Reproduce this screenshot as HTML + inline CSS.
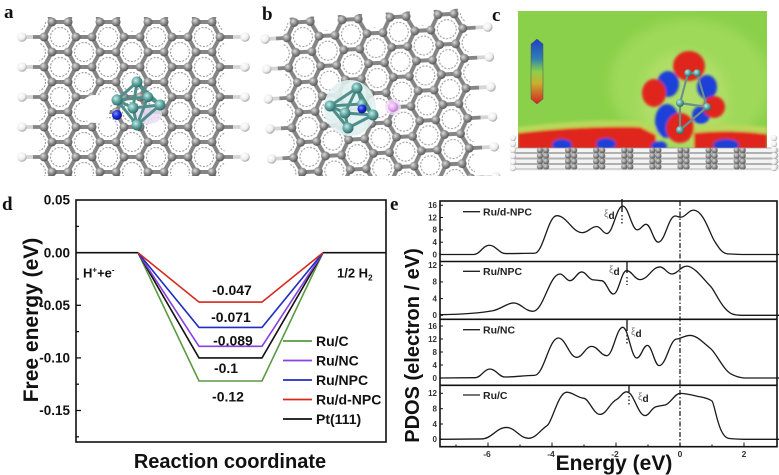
<!DOCTYPE html>
<html><head><meta charset="utf-8"><style>html,body{margin:0;padding:0;background:#fff}svg{display:block}</style></head><body>
<svg xmlns="http://www.w3.org/2000/svg" xmlns:xlink="http://www.w3.org/1999/xlink" width="779" height="475" viewBox="0 0 779 475" font-family="'Liberation Sans', Arial, sans-serif">
<defs>
<radialGradient id="atom" cx="0.38" cy="0.35" r="0.7"><stop offset="0" stop-color="#dcdcdc"/><stop offset="0.45" stop-color="#959595"/><stop offset="1" stop-color="#4e4e4e"/></radialGradient>
<radialGradient id="hat" cx="0.38" cy="0.35" r="0.7"><stop offset="0" stop-color="#ffffff"/><stop offset="0.6" stop-color="#eeeeee"/><stop offset="1" stop-color="#9a9a9a"/></radialGradient>
<radialGradient id="ru" cx="0.38" cy="0.35" r="0.7"><stop offset="0" stop-color="#c4ece8"/><stop offset="0.5" stop-color="#5fa6a1"/><stop offset="1" stop-color="#2a625f"/></radialGradient>
<radialGradient id="nat" cx="0.38" cy="0.35" r="0.7"><stop offset="0" stop-color="#7f8cff"/><stop offset="0.5" stop-color="#1a2ad6"/><stop offset="1" stop-color="#0a1280"/></radialGradient>
<radialGradient id="pat" cx="0.38" cy="0.35" r="0.7"><stop offset="0" stop-color="#fbe6ff"/><stop offset="0.6" stop-color="#e3a4ee"/><stop offset="1" stop-color="#b070c0"/></radialGradient>
<linearGradient id="cbar" x1="0" y1="0" x2="0" y2="1"><stop offset="0" stop-color="#1f3fc8"/><stop offset="0.3" stop-color="#2f7fb0"/><stop offset="0.5" stop-color="#8ad04a"/><stop offset="0.68" stop-color="#c8b030"/><stop offset="1" stop-color="#d42020"/></linearGradient>
<filter id="bl" x="-30%" y="-30%" width="160%" height="160%"><feGaussianBlur stdDeviation="1.3"/></filter>
<filter id="bl2" x="-30%" y="-30%" width="160%" height="160%"><feGaussianBlur stdDeviation="5"/></filter>
<pattern id="gr" patternUnits="userSpaceOnUse" x="60" y="37" width="48" height="30">
 <g stroke="#858585" stroke-width="4" stroke-linecap="round">
  <line x1="16" y1="0" x2="32" y2="0"/><line x1="16" y1="30" x2="32" y2="30"/>
  <line x1="16" y1="0" x2="8" y2="15"/><line x1="32" y1="0" x2="40" y2="15"/>
  <line x1="8" y1="15" x2="16" y2="30"/><line x1="40" y1="15" x2="32" y2="30"/>
  <line x1="40" y1="15" x2="56" y2="15"/><line x1="-8" y1="15" x2="8" y2="15"/>
 </g>
 <g fill="none" stroke="#9a9a9a" stroke-width="1.1" stroke-dasharray="2 1.5">
  <circle cx="0" cy="0" r="9.5"/><circle cx="48" cy="0" r="9.5"/><circle cx="0" cy="30" r="9.5"/><circle cx="48" cy="30" r="9.5"/><circle cx="24" cy="15" r="9.5"/>
 </g>
 <g fill="url(#atom)">
  <circle cx="16" cy="0" r="4.5"/><circle cx="32" cy="0" r="4.5"/><circle cx="16" cy="30" r="4.5"/><circle cx="32" cy="30" r="4.5"/><circle cx="8" cy="15" r="4.5"/><circle cx="40" cy="15" r="4.5"/>
 </g>
</pattern>
<pattern id="sv" patternUnits="userSpaceOnUse" x="529" y="147.5" width="28.1" height="5.5">
 <circle cx="11" cy="2.75" r="3.1" fill="url(#atom)"/><circle cx="17" cy="2.75" r="3.1" fill="url(#atom)"/>
</pattern>
<clipPath id="clA"><polygon points="39.5,195 39.5,33 48,17 72,17 76,31.5 92,31.5 96,17 120,17 124,31.5 140,31.5 144,17 168,17 172,31.5 188,31.5 192,17 216,17 224.5,33 224.5,195"/></clipPath>
<clipPath id="topclip"><rect x="0" y="0" width="512" height="176"/></clipPath>
<clipPath id="clC"><rect x="518" y="11" width="249" height="139"/></clipPath>
<g id="sheet">
 <g stroke-width="3.8">
  <line x1="33" y1="37" x2="44" y2="37" stroke="#858585"/><line x1="22" y1="37" x2="33" y2="37" stroke="#d5d5d5"/>
  <line x1="33" y1="67" x2="44" y2="67" stroke="#858585"/><line x1="22" y1="67" x2="33" y2="67" stroke="#d5d5d5"/>
  <line x1="33" y1="97" x2="44" y2="97" stroke="#858585"/><line x1="22" y1="97" x2="33" y2="97" stroke="#d5d5d5"/>
  <line x1="33" y1="127" x2="44" y2="127" stroke="#858585"/><line x1="22" y1="127" x2="33" y2="127" stroke="#d5d5d5"/>
  <line x1="33" y1="157" x2="44" y2="157" stroke="#858585"/><line x1="22" y1="157" x2="33" y2="157" stroke="#d5d5d5"/>
  <line x1="33" y1="187" x2="44" y2="187" stroke="#858585"/><line x1="22" y1="187" x2="33" y2="187" stroke="#d5d5d5"/>
  <line x1="220" y1="37" x2="233" y2="37" stroke="#858585"/><line x1="233" y1="37" x2="245" y2="37" stroke="#d5d5d5"/>
  <line x1="220" y1="67" x2="233" y2="67" stroke="#858585"/><line x1="233" y1="67" x2="245" y2="67" stroke="#d5d5d5"/>
  <line x1="220" y1="97" x2="233" y2="97" stroke="#858585"/><line x1="233" y1="97" x2="245" y2="97" stroke="#d5d5d5"/>
  <line x1="220" y1="127" x2="233" y2="127" stroke="#858585"/><line x1="233" y1="127" x2="245" y2="127" stroke="#d5d5d5"/>
  <line x1="220" y1="157" x2="233" y2="157" stroke="#858585"/><line x1="233" y1="157" x2="245" y2="157" stroke="#d5d5d5"/>
  <line x1="220" y1="187" x2="233" y2="187" stroke="#858585"/><line x1="233" y1="187" x2="245" y2="187" stroke="#d5d5d5"/>
 </g>
 <rect x="30" y="5" width="200" height="195" fill="url(#gr)" clip-path="url(#clA)"/>
 <g fill="url(#hat)">
  <circle cx="22" cy="37" r="4.8"/><circle cx="22" cy="67" r="4.8"/><circle cx="22" cy="97" r="4.8"/><circle cx="22" cy="127" r="4.8"/><circle cx="22" cy="157" r="4.8"/><circle cx="22" cy="187" r="4.8"/>
  <circle cx="245" cy="37" r="4.8"/><circle cx="245" cy="67" r="4.8"/><circle cx="245" cy="97" r="4.8"/><circle cx="245" cy="127" r="4.8"/><circle cx="245" cy="157" r="4.8"/><circle cx="245" cy="187" r="4.8"/>
 </g>
</g>
</defs>

<!-- Panels a & b -->
<g clip-path="url(#topclip)">
 <use href="#sheet" xlink:href="#sheet"/>
 <ellipse cx="95" cy="109" rx="15" ry="14" fill="#fff"/>
 <ellipse cx="148" cy="114" rx="14" ry="10" fill="#eadcf5" opacity="0.85"/>
 <g stroke="#4f8f8b" stroke-width="3" stroke-linecap="round">
  <line x1="137" y1="82" x2="117" y2="100"/><line x1="137" y1="82" x2="160" y2="105"/><line x1="137" y1="82" x2="133" y2="108"/><line x1="137" y1="82" x2="148" y2="97"/>
  <line x1="137" y1="125" x2="117" y2="100"/><line x1="137" y1="125" x2="160" y2="105"/><line x1="137" y1="125" x2="133" y2="108"/><line x1="137" y1="125" x2="148" y2="97"/>
  <line x1="117" y1="100" x2="133" y2="108"/><line x1="133" y1="108" x2="160" y2="105"/><line x1="160" y1="105" x2="148" y2="97"/><line x1="148" y1="97" x2="117" y2="100"/>
 </g>
 <g fill="url(#ru)">
  <circle cx="148" cy="97" r="5.2"/><circle cx="117" cy="100" r="5.5"/><circle cx="160" cy="105" r="5.5"/><circle cx="137" cy="82" r="5.5"/><circle cx="137" cy="125" r="5.5"/><circle cx="133" cy="108" r="5.5"/>
 </g>
 <circle cx="117" cy="115" r="5" fill="url(#nat)"/>

 <use href="#sheet" xlink:href="#sheet" transform="rotate(-3.1 303 37) translate(243 0)"/>
 <ellipse cx="350" cy="108" rx="26" ry="28" fill="#e2f1f1" opacity="0.9"/>
 <circle cx="393" cy="107" r="8" fill="#f3dcf7" opacity="0.8"/>
 <g stroke="#4f8f8b" stroke-width="3" stroke-linecap="round">
  <line x1="357" y1="88" x2="330" y2="106"/><line x1="357" y1="88" x2="373" y2="115"/><line x1="357" y1="88" x2="345" y2="113"/><line x1="357" y1="88" x2="362" y2="104"/>
  <line x1="348" y1="128" x2="330" y2="106"/><line x1="348" y1="128" x2="373" y2="115"/><line x1="348" y1="128" x2="345" y2="113"/>
  <line x1="330" y1="106" x2="345" y2="113"/><line x1="345" y1="113" x2="373" y2="115"/><line x1="330" y1="106" x2="362" y2="104"/><line x1="362" y1="104" x2="373" y2="115"/>
 </g>
 <g fill="url(#ru)">
  <circle cx="362" cy="104" r="5"/><circle cx="330" cy="106" r="5.5"/><circle cx="373" cy="115" r="5.5"/><circle cx="357" cy="88" r="5.5"/><circle cx="348" cy="128" r="5.5"/><circle cx="345" cy="113" r="5.5"/>
 </g>
 <circle cx="362" cy="109" r="4.5" fill="url(#nat)"/>
 <circle cx="393" cy="107" r="5" fill="url(#pat)"/>
</g>

<!-- Panel c -->
<g clip-path="url(#clC)">
 <rect x="518" y="11" width="249" height="140" fill="#8bd04a"/>
 <ellipse cx="690" cy="84" rx="80" ry="64" fill="#9fd95a" filter="url(#bl2)"/>
 <ellipse cx="684" cy="100" rx="44" ry="48" fill="#b0de68" filter="url(#bl2)"/>
 <g filter="url(#bl)">
  <path d="M518,127 C560,122 600,119 640,121 L660,129 L660,151 L518,151 Z" fill="#b8d85a"/>
  <path d="M692,126 C720,123 745,124 767,127 L767,151 L692,151 Z" fill="#b8d85a"/>
  <path d="M518,133 C560,128 600,126 640,127 L656,135 L656,151 L518,151 Z" fill="#e0261c"/>
  <path d="M694,133 C720,130 745,131 767,134 L767,151 L694,151 Z" fill="#e0261c"/>
  <ellipse cx="668" cy="84" rx="11" ry="13" fill="#1f3fd8"/>
  <ellipse cx="707" cy="87" rx="10" ry="12" fill="#1f3fd8"/>
  <ellipse cx="667" cy="121" rx="12" ry="17" fill="#1f3fd8"/>
  <ellipse cx="701" cy="115" rx="9" ry="9" fill="#1f3fd8"/>
  <ellipse cx="659" cy="146" rx="8" ry="5" fill="#1f3fd8"/>
  <ellipse cx="562" cy="145" rx="10" ry="6" fill="#1f3fd8"/>
  <ellipse cx="606" cy="144" rx="10" ry="6" fill="#1f3fd8"/>
  <ellipse cx="726" cy="145" rx="13" ry="6" fill="#1f3fd8"/>
  <ellipse cx="689" cy="66" rx="16" ry="15" fill="#e0261c"/>
  <ellipse cx="654" cy="93" rx="12" ry="14" fill="#e0261c"/>
  <ellipse cx="714" cy="107" rx="11" ry="11" fill="#e0261c"/>
  <ellipse cx="680" cy="128" rx="14" ry="15" fill="#e0261c"/>
 </g>
 <g stroke="#6f8f8c" stroke-width="2.2">
  <line x1="688" y1="73" x2="697" y2="73"/><line x1="688" y1="73" x2="680" y2="103"/><line x1="697" y1="73" x2="707" y2="107"/>
  <line x1="680" y1="103" x2="707" y2="107"/><line x1="680" y1="103" x2="680" y2="130"/><line x1="707" y1="107" x2="680" y2="130"/>
 </g>
 <g fill="url(#ru)">
  <circle cx="688" cy="73" r="3.8"/><circle cx="697" cy="73" r="3.8"/><circle cx="680" cy="103" r="4"/><circle cx="707" cy="107" r="4"/><circle cx="680" cy="130" r="4"/>
 </g>
 <polygon points="531,44 537,39 543,44 543,99 537,104 531,99" fill="url(#cbar)" stroke="#555" stroke-width="0.5"/>
</g>
<rect x="510" y="150" width="269" height="21" fill="#f6f6f6"/>
<g fill="#f3f3f3" stroke="#9a9a9a" stroke-width="0.7">
 <rect x="512" y="148" width="266" height="4.5" rx="2.2"/>
 <rect x="512" y="153.5" width="266" height="4.5" rx="2.2"/>
 <rect x="512" y="159" width="266" height="4.5" rx="2.2"/>
 <rect x="512" y="164.5" width="266" height="4.5" rx="2.2"/>
</g>
<rect x="529" y="147.5" width="225" height="22" fill="url(#sv)"/>
<g fill="url(#hat)">
 <circle cx="513" cy="138" r="3.2"/><circle cx="513" cy="144" r="3.2"/><circle cx="513" cy="150" r="3.2"/><circle cx="513" cy="156" r="3.2"/><circle cx="513" cy="162" r="3.2"/><circle cx="513" cy="168" r="3.2"/>
 <circle cx="774" cy="138" r="3.2"/><circle cx="774" cy="144" r="3.2"/><circle cx="774" cy="150" r="3.2"/><circle cx="774" cy="156" r="3.2"/><circle cx="774" cy="162" r="3.2"/><circle cx="774" cy="168" r="3.2"/>
</g>

<!-- panel letters -->
<g font-family="'Liberation Serif', 'Times New Roman', serif" font-weight="bold" font-size="19" fill="#111">
 <text x="4" y="18">a</text>
 <text x="262" y="20">b</text>
 <text x="492" y="21">c</text>
 <text x="2" y="210">d</text>
 <text x="390" y="210">e</text>
</g>

<!-- Panel d -->
<g font-weight="bold" fill="#111">
 <rect x="76" y="200" width="310" height="242" fill="none" stroke="#111" stroke-width="1.6"/>
 <g stroke="#111" stroke-width="1.3">
  <line x1="76" y1="252.7" x2="81" y2="252.7"/><line x1="76" y1="305.3" x2="81" y2="305.3"/><line x1="76" y1="357.9" x2="81" y2="357.9"/><line x1="76" y1="410.5" x2="81" y2="410.5"/>
  <line x1="76" y1="226.4" x2="79" y2="226.4"/><line x1="76" y1="279" x2="79" y2="279"/><line x1="76" y1="331.6" x2="79" y2="331.6"/><line x1="76" y1="384.2" x2="79" y2="384.2"/><line x1="76" y1="436.8" x2="79" y2="436.8"/>
 </g>
 <g font-size="13.5" text-anchor="end">
  <text x="70" y="204.7">0.05</text>
  <text x="70" y="257.3">0.00</text>
  <text x="70" y="309.9">-0.05</text>
  <text x="70" y="362.5">-0.10</text>
  <text x="70" y="415.1">-0.15</text>
 </g>
 <text transform="translate(38 320) rotate(-90)" text-anchor="middle" font-size="21">Free energy (eV)</text>
 <text x="230" y="468" text-anchor="middle" font-size="20">Reaction coordinate</text>
 <g fill="none" stroke-width="1.6">
  <path d="M76,252.7 L138,252.7 M323,252.7 L386,252.7" stroke="#111"/>
  <path d="M138,252.7 L199,381 L262,381 L323,252.7" stroke="#5a9a40"/>
  <path d="M138,252.7 L199,357.9 L262,357.9 L323,252.7" stroke="#111"/>
  <path d="M138,252.7 L199,346.3 L262,346.3 L323,252.7" stroke="#8a3fe0"/>
  <path d="M138,252.7 L199,327.4 L262,327.4 L323,252.7" stroke="#1f2fc0"/>
  <path d="M138,252.7 L199,302.1 L262,302.1 L323,252.7" stroke="#d42a1e"/>
 </g>
 <g font-size="14" text-anchor="middle">
  <text x="232" y="295">-0.047</text>
  <text x="231" y="322">-0.071</text>
  <text x="233" y="345.5">-0.089</text>
  <text x="226" y="373">-0.1</text>
  <text x="228" y="401.5">-0.12</text>
 </g>
 <text x="83" y="277.5" font-size="13">H<tspan font-size="8" dy="-5">+</tspan><tspan dy="5">+e</tspan><tspan font-size="8" dy="-5">-</tspan></text>
 <text x="337" y="277.5" font-size="13">1/2 H<tspan font-size="8" dy="3">2</tspan></text>
 <g stroke-width="1.8">
  <line x1="283" y1="341" x2="312" y2="341" stroke="#5a9a40"/>
  <line x1="283" y1="360.5" x2="312" y2="360.5" stroke="#8a3fe0"/>
  <line x1="283" y1="380" x2="312" y2="380" stroke="#1f2fc0"/>
  <line x1="283" y1="399.5" x2="312" y2="399.5" stroke="#d42a1e"/>
  <line x1="283" y1="419" x2="312" y2="419" stroke="#111"/>
 </g>
 <g font-size="14">
  <text x="316" y="346">Ru/C</text>
  <text x="316" y="365.5">Ru/NC</text>
  <text x="316" y="385">Ru/NPC</text>
  <text x="316" y="404.5">Ru/d-NPC</text>
  <text x="316" y="424">Pt(111)</text>
 </g>
</g>

<!-- Panel e -->
<g>
 <line x1="680" y1="201" x2="680" y2="446.7" stroke="#222" stroke-width="1.3" stroke-dasharray="5 2 1.5 2"/>
 <g fill="none" stroke="#1a1a1a" stroke-width="1.3">
  <path vector-effect="non-scaling-stroke" transform="translate(680 254.5) scale(32 -3.08)" d="M-7.5,0 L-6.45,0 C-6.254,0 -6.156,3 -5.96,3 C-5.756,3 -5.654,0.3 -5.45,0.3 C-5.09,0.3 -4.91,0.4 -4.55,0.4 C-4.27,0.4 -4.13,12.6 -3.85,12.6 C-3.53,12.6 -3.37,7.1 -3.05,7.1 C-2.87,7.1 -2.78,9.1 -2.6,9.1 C-2.476,9.1 -2.414,6.8 -2.29,6.8 C-2.09,6.8 -1.99,15.7 -1.79,15.7 C-1.606,15.7 -1.514,8 -1.33,8 C-1.222,8 -1.168,9.8 -1.06,9.8 C-0.908,9.8 -0.832,4 -0.68,4 C-0.468,4 -0.362,12.5 -0.15,12.5 C-0.082,12.5 -0.048,12.1 0.02,12.1 C0.18,12.1 0.26,14.4 0.42,14.4 C0.75,14.4 0.95,6 1.1,4 C1.2,2.5 1.3,0.3 1.5,0.2 C1.7,0.1 1.8,0 2,0 L3.1,0"/>
  <path vector-effect="non-scaling-stroke" transform="translate(680 315.3) scale(32 -4.17)" d="M-7.5,0.15 C-6.8,0.25 -6.2,0.6 -5.85,1.1 C-5.6,1.46 -5.4,2.96 -5.21,2.96 C-4.966,2.96 -4.844,0.96 -4.6,0.96 C-4.26,0.96 -4.09,9.9 -3.75,9.9 C-3.626,9.9 -3.564,8.3 -3.44,8.3 C-3.292,8.3 -3.218,10.4 -3.07,10.4 C-2.926,10.4 -2.854,8.5 -2.71,8.5 C-2.61,8.5 -2.55,8.3 -2.45,8.3 C-2.302,8.3 -2.228,5.1 -2.08,5.1 C-1.916,5.1 -1.834,10.7 -1.67,10.7 C-1.502,10.7 -1.418,8.56 -1.25,8.56 C-1,8.56 -0.875,11.6 -0.625,11.6 C-0.479,11.6 -0.406,9.9 -0.26,9.9 C-0.072,9.9 0.022,11.8 0.21,11.8 C0.45,11.8 0.75,8.5 0.95,7 C1.1,6 1.35,0.3 1.75,0.1 C1.85,0.05 1.9,0 2,0 L3.1,0"/>
  <path vector-effect="non-scaling-stroke" transform="translate(680 378) scale(32 -3.25)" d="M-7.5,0 L-6.4,0.1 C-6.216,0.1 -6.124,2.77 -5.94,2.77 C-5.752,2.77 -5.658,0.3 -5.47,0.3 C-5.1,0.3 -4.9,0.8 -4.55,0.8 C-4.25,0.8 -4.1,12.3 -3.8,12.3 C-3.572,12.3 -3.458,6.36 -3.23,6.36 C-3.042,6.36 -2.948,9.74 -2.76,9.74 C-2.572,9.74 -2.478,6.87 -2.29,6.87 C-2.09,6.87 -1.99,15.6 -1.79,15.6 C-1.614,15.6 -1.526,6.15 -1.35,6.15 C-1.218,6.15 -1.152,10.05 -1.02,10.05 C-0.872,10.05 -0.798,3.8 -0.65,3.8 C-0.43,3.8 -0.32,12 -0.1,12 C0,12 0.15,13.1 0.31,13.1 C0.55,13.1 0.75,10.6 0.94,9.2 C1.13,7.8 1.35,2.5 1.6,1.2 C1.75,0.4 1.85,0.1 2,0 L3.1,0"/>
  <path vector-effect="non-scaling-stroke" transform="translate(680 439.3) scale(32 -3.83)" d="M-7.5,0 L-6.2,0.1 C-5.89,0.1 -5.73,3.1 -5.42,3.1 C-5.15,3.1 -5.01,0.26 -4.74,0.26 C-4.5,0.26 -4.35,2.6 -4.15,3.6 C-4,4.4 -3.8,12.3 -3.54,12.3 C-3.35,12.3 -3.2,10.8 -3,10.7 C-2.85,10.6 -2.7,6.5 -2.5,6.5 C-2.3,6.5 -2.2,9.5 -1.98,10.4 C-1.85,11 -1.8,12.4 -1.67,12.4 C-1.44,12.4 -1.32,6.2 -1.09,6.2 C-0.95,6.2 -0.9,8.2 -0.75,8.5 C-0.65,8.7 -0.55,8.8 -0.45,9 C-0.3,9.4 -0.15,12 0,12 C0.2,12 0.45,11.4 0.625,11.1 C0.8,10.8 0.9,10.6 1,10 C1.1,9 1.2,0.3 1.55,0.2 C1.7,0.1 1.8,0 2,0 L3.1,0"/>
 </g>
 <g stroke="#111" stroke-width="1.6" fill="none">
  <rect x="440" y="201" width="337" height="245.7"/>
  <line x1="440" y1="261.5" x2="777" y2="261.5"/>
  <line x1="440" y1="319.3" x2="777" y2="319.3"/>
  <line x1="440" y1="385.3" x2="777" y2="385.3"/>
 </g>
 <g stroke="#111" stroke-width="1">
  <line x1="440" y1="254.5" x2="443" y2="254.5"/><line x1="440" y1="242.2" x2="443" y2="242.2"/><line x1="440" y1="229.9" x2="443" y2="229.9"/><line x1="440" y1="217.5" x2="443" y2="217.5"/><line x1="440" y1="205.2" x2="443" y2="205.2"/>
  <line x1="440" y1="315.3" x2="443" y2="315.3"/><line x1="440" y1="298.6" x2="443" y2="298.6"/><line x1="440" y1="281.9" x2="443" y2="281.9"/><line x1="440" y1="265.3" x2="443" y2="265.3"/>
  <line x1="440" y1="378" x2="443" y2="378"/><line x1="440" y1="365" x2="443" y2="365"/><line x1="440" y1="352" x2="443" y2="352"/><line x1="440" y1="339" x2="443" y2="339"/><line x1="440" y1="326" x2="443" y2="326"/>
  <line x1="440" y1="439.3" x2="443" y2="439.3"/><line x1="440" y1="424" x2="443" y2="424"/><line x1="440" y1="408.7" x2="443" y2="408.7"/><line x1="440" y1="393.3" x2="443" y2="393.3"/>
  <line x1="488" y1="446.7" x2="488" y2="442.5"/><line x1="552" y1="446.7" x2="552" y2="442.5"/><line x1="616" y1="446.7" x2="616" y2="442.5"/><line x1="680" y1="446.7" x2="680" y2="442.5"/><line x1="744" y1="446.7" x2="744" y2="442.5"/>
  <line x1="456" y1="446.7" x2="456" y2="444.5"/><line x1="520" y1="446.7" x2="520" y2="444.5"/><line x1="584" y1="446.7" x2="584" y2="444.5"/><line x1="648" y1="446.7" x2="648" y2="444.5"/><line x1="712" y1="446.7" x2="712" y2="444.5"/>
 </g>
 <g font-size="8" font-weight="bold" fill="#333" text-anchor="end">
  <text x="437" y="257.3">0</text><text x="437" y="245">4</text><text x="437" y="232.7">8</text><text x="437" y="220.3">12</text><text x="437" y="208">16</text>
  <text x="437" y="318.1">0</text><text x="437" y="301.4">4</text><text x="437" y="284.7">8</text><text x="437" y="268.1">12</text>
  <text x="437" y="380.8">0</text><text x="437" y="367.8">4</text><text x="437" y="354.8">8</text><text x="437" y="341.8">12</text><text x="437" y="328.8">16</text>
  <text x="437" y="442.1">0</text><text x="437" y="426.8">4</text><text x="437" y="411.5">8</text><text x="437" y="396.1">12</text>
 </g>
 <g font-size="8.5" font-weight="bold" fill="#333" text-anchor="middle">
  <text x="487" y="457">-6</text><text x="551" y="457">-4</text><text x="615" y="457">-2</text><text x="680" y="457">0</text><text x="744" y="457">2</text>
 </g>
 <text x="614" y="470" text-anchor="middle" font-size="21" font-weight="bold" fill="#111">Energy (eV)</text>
 <text transform="translate(419 345.5) rotate(-90)" text-anchor="middle" font-size="20" font-weight="bold" fill="#111">PDOS (electron / eV)</text>
 <g stroke="#222" stroke-width="1.3">
  <line x1="463" y1="211.7" x2="480" y2="211.7"/>
  <line x1="463" y1="271.3" x2="480" y2="271.3"/>
  <line x1="463" y1="329.7" x2="480" y2="329.7"/>
  <line x1="463" y1="395" x2="480" y2="395"/>
 </g>
 <g font-size="10.5" font-weight="bold" fill="#222">
  <text x="483" y="215.5">Ru/d-NPC</text>
  <text x="483" y="275.1">Ru/NPC</text>
  <text x="483" y="333.5">Ru/NC</text>
  <text x="483" y="398.8">Ru/C</text>
 </g>
 <g stroke="#111" stroke-width="1.3">
  <line x1="622" y1="199" x2="622" y2="212"/><line x1="622" y1="215" x2="622" y2="224" stroke-dasharray="1.5 2"/>
  <line x1="627" y1="262" x2="627" y2="273"/><line x1="627" y1="277" x2="627" y2="285" stroke-dasharray="1.5 2"/>
  <line x1="627" y1="319.5" x2="627" y2="331"/><line x1="627" y1="335" x2="627" y2="344" stroke-dasharray="1.5 2"/>
  <line x1="629" y1="385.5" x2="629" y2="392"/><line x1="629" y1="396" x2="629" y2="405" stroke-dasharray="1.5 2"/>
 </g>
 <g font-size="10">
  <text x="604" y="217"><tspan fill="#777">ξ</tspan><tspan font-weight="bold" fill="#222" dy="2">d</tspan></text>
  <text x="609" y="273"><tspan fill="#777">ξ</tspan><tspan font-weight="bold" fill="#222" dy="2">d</tspan></text>
  <text x="631" y="335"><tspan fill="#777">ξ</tspan><tspan font-weight="bold" fill="#222" dy="2">d</tspan></text>
  <text x="638" y="400"><tspan fill="#777">ξ</tspan><tspan font-weight="bold" fill="#222" dy="2">d</tspan></text>
 </g>
</g>
</svg>
</body></html>
